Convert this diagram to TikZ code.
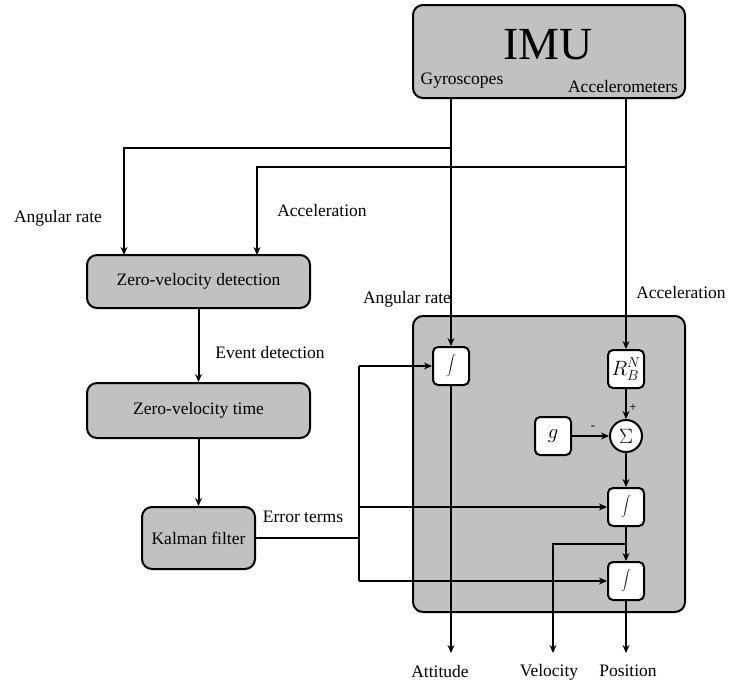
\documentclass[tikz,border=0pt]{standalone}
\usepackage{fontspec}
\setmainfont{Liberation Serif}
\usetikzlibrary{arrows.meta}
\definecolor{boxgray}{RGB}{192,193,195}
\tikzset{
  conn/.style={line width=2pt, draw=black},
  arr/.style={conn, -{Stealth[length=8pt,width=7pt]}},
  graybox/.style={draw=black, line width=2pt, fill=boxgray, rounded corners=10pt, inner sep=0pt},
  whitebox/.style={draw=black, line width=2pt, fill=white, rounded corners=5pt, inner sep=0pt, minimum width=36pt, minimum height=38pt, font=\fontsize{22}{24}\selectfont},
  lbl/.style={font=\fontsize{17.5}{20}\selectfont, inner sep=0pt},
}
\begin{document}
\begin{tikzpicture}[x=1pt,y=-1pt]
\useasboundingbox (0,0) rectangle (731,686);
% big boxes
\node[graybox, minimum width=272pt, minimum height=93pt] (imu) at (549,51.5) {};
\node[lbl, font=\fontsize{46}{50}\selectfont] (imut) at (548,45) {IMU};
\node[lbl] (gyt) at (462,81) {Gyroscopes};
\node[lbl] (act) at (623,87) {Accelerometers};
\node[graybox, minimum width=272pt, minimum height=296pt] (core) at (549,464) {};
\node[graybox, minimum width=223pt, minimum height=53pt, lbl] (zvd) at (198.5,281.5) {Zero-velocity detection};
\node[graybox, minimum width=223pt, minimum height=55pt, lbl] (zvt) at (198.5,410.5) {Zero-velocity time};
\node[graybox, minimum width=113pt, minimum height=62pt, lbl] (kf) at (198.5,538) {Kalman filter};
% inner blocks
\node[whitebox] (int1) at (451,366) {$\displaystyle\int$};
\node[whitebox, font=\fontsize{20}{22}\selectfont] (rbn) at (626,369) {$R_B^N$};
\node[draw=black, line width=2pt, fill=white, circle, minimum size=32pt, inner sep=0pt, font=\fontsize{21}{22}\selectfont] (sig) at (626,436) {$\Sigma$};
\node[whitebox] (g) at (553,436) {$g$};
\node[whitebox] (int2) at (626,507) {$\displaystyle\int$};
\node[whitebox] (int3) at (626,581) {$\displaystyle\int$};
% coordinates
\coordinate (gy) at (451,98);
\coordinate (ac) at (626,98);
\coordinate (gyb) at (451,148);
\coordinate (acb) at (626,167);
\coordinate (zl) at (124,255);
\coordinate (zr) at (257,255);
\coordinate (ej) at (359,538);
\coordinate (et) at (359,366);
\coordinate (em) at (359,507);
\coordinate (eb) at (359,581);
\coordinate (vb) at (626,544);
\coordinate (att) at (451,653);
\coordinate (vel) at (553,653);
\coordinate (pos) at (626,653);
% connectors
\draw[arr] (gy) -- (int1.north);
\draw[arr] (ac) -- (rbn.north);
\draw[arr] (gyb) -| (zl);
\draw[arr] (acb) -| (zr);
\draw[arr] (zvd) -- (zvt);
\draw[arr] (zvt) -- (kf);
\draw[conn] (kf.east) -- (ej);
\draw[conn] (et) -- (eb);
\draw[arr] (et) -- (int1.west);
\draw[arr] (em) -- (int2.west);
\draw[arr] (eb) -- (int3.west);
\draw[arr] (rbn) -- (sig);
\draw[arr] (g) -- (sig);
\draw[arr] (sig) -- (int2);
\draw[arr] (int2) -- (int3);
\draw[arr] (vb) -| (vel);
\draw[arr] (int3) -- (pos);
\draw[arr] (int1) -- (att);
% labels
\node[lbl] (l1) at (58,218) {Angular rate};
\node[lbl] (l2) at (322,211) {Acceleration};
\node[lbl] (l3) at (407,299) {Angular rate};
\node[lbl] (l4) at (681,293) {Acceleration};
\node[lbl] (l5) at (270,353) {Event detection};
\node[lbl] (l6) at (303,517) {Error terms};
\node[lbl] (l7) at (440,672) {Attitude};
\node[lbl] (l8) at (549,672) {Velocity};
\node[lbl] (l9) at (628,671) {Position};
\node[lbl, font=\fontsize{13}{14}\selectfont] (plus) at (633,408) {+};
\node[lbl, font=\fontsize{13}{14}\selectfont] (minus) at (593,428) {-};
\end{tikzpicture}
\end{document}
